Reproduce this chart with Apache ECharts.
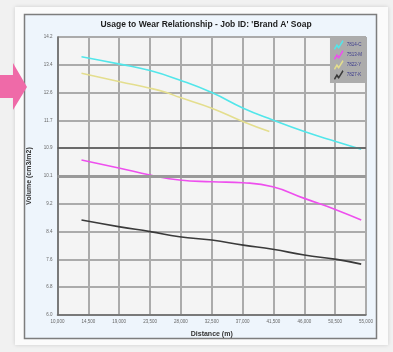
<!DOCTYPE html>
<html>
<head>
<meta charset="utf-8">
<script src="https://cdn.jsdelivr.net/npm/echarts@6/dist/echarts.min.js"></script>
<style>
  html, body { margin: 0; padding: 0; background: #f1f1f1; }
  #chart { width: 393px; height: 352px; }
</style>
</head>
<body>
<div id="chart"></div>
<script>
const chartTitle = "Usage to Wear Relationship - Job ID: 'Brand A' Soap";
const seriesNames = ["7814-C", "7513-M", "7822-Y", "7827-K"];

// distance (m) where each curve was sampled
const distanceFull = [13500, 19100, 23500, 27800, 32500, 37100, 41400, 46000, 50700, 54300];
const distanceYellow = [13500, 19100, 23500, 25900, 27800, 32500, 37100, 40900];

const cyanValues = [13.62, 13.40, 13.21, 12.93, 12.56, 12.10, 11.75, 11.41, 11.11, 10.89];
const magentaValues = [10.57, 10.33, 10.13, 9.98, 9.93, 9.90, 9.78, 9.44, 9.10, 8.80];
const yellowValues = [13.13, 12.88, 12.69, 12.56, 12.42, 12.10, 11.70, 11.41];
const blackValues = [8.80, 8.60, 8.46, 8.31, 8.21, 8.06, 7.94, 7.77, 7.64, 7.50];

const xTickLabels = ["10,000", "14,500", "19,000", "23,500", "28,000", "32,500", "37,000", "41,500", "46,000", "50,500", "55,000"];
const yTickLabels = ["6.0", "6.8", "7.6", "8.4", "9.2", "10.1", "10.9", "11.7", "12.6", "13.4", "14.2"];

const X_MIN = 10000, X_MAX = 55000, X_STEP = 4500;
const Y_MIN = 6.0, Y_MAX = 14.2, Y_STEP = 0.82;

const squiggle = "path://M0,9 L3,4 L5,6.5 L9,0 L10,1.5 L5,9.5 L3,7 L1,10.5 Z";

function pairs(xs, ys) {
  return xs.map((x, i) => [x, ys[i]]);
}

function lineSeries(name, xs, ys, color) {
  return {
    name,
    type: "line",
    smooth: true,
    symbol: "none",
    data: pairs(xs, ys),
    lineStyle: { color, width: 1.6 },
    itemStyle: { color },
  };
}

const chart = echarts.init(document.getElementById("chart"), null, { renderer: "canvas" });

const series = [
  lineSeries(seriesNames[0], distanceFull, cyanValues, "#52e6ea"),
  lineSeries(seriesNames[1], distanceFull, magentaValues, "#ee4fee"),
  lineSeries(seriesNames[2], distanceYellow, yellowValues, "#e4de8e"),
  lineSeries(seriesNames[3], distanceFull, blackValues, "#3a3a3a"),
];

// heavier reference lines across the plot
series[0].markLine = {
  silent: true,
  symbol: "none",
  label: { show: false },
  data: [
    { yAxis: 10.92, lineStyle: { color: "#555", width: 1.5, type: "solid" } },
    { yAxis: 10.1, lineStyle: { color: "#999", width: 3, type: "solid" } },
  ],
};

chart.setOption({
  backgroundColor: "#f1f1f1",
  animation: false,
  title: {
    text: chartTitle,
    left: 201,
    top: 15,
    textAlign: "center",
    textStyle: { fontFamily: "Liberation Sans", fontSize: 8.5, fontWeight: "bold", color: "#1e1e1e" },
  },
  graphic: [
    {
      type: "rect",
      z: -20,
      shape: { x: 15, y: 7, width: 373, height: 338 },
      style: { fill: "#fbfbfb", shadowBlur: 4, shadowColor: "rgba(0,0,0,0.15)" },
    },
    {
      type: "rect",
      z: -19,
      shape: { x: 24.5, y: 14.5, width: 352, height: 324 },
      style: { fill: "#eef5fc", stroke: "#7d7d7d", lineWidth: 1.5 },
    },
    {
      type: "polygon",
      z: 100,
      shape: { points: [[0, 75], [13, 75], [13, 63], [27, 87], [13, 110], [13, 98], [0, 98]] },
      style: { fill: "#ef6aa8" },
    },
  ],
  legend: {
    data: seriesNames.map((name) => ({ name, icon: squiggle })),
    orient: "vertical",
    right: 27,
    top: 37,
    padding: [3, 4, 3, 4],
    itemGap: 0,
    itemWidth: 10,
    itemHeight: 10,
    backgroundColor: "#acacac",
    lineStyle: { width: 0 },
    textStyle: { fontFamily: "Liberation Sans", fontSize: 4.5, color: "#3b3b8c", padding: [0, 0, 0, -2] },
  },
  grid: {
    left: 57.5,
    right: 27,
    top: 37,
    bottom: 37,
    show: true,
    backgroundColor: "#f4f4f4",
    borderWidth: 0,
  },
  xAxis: {
    type: "value",
    min: X_MIN,
    max: X_MAX,
    interval: X_STEP,
    name: "Distance (m)",
    nameLocation: "middle",
    nameGap: 16,
    nameTextStyle: { fontFamily: "Liberation Sans", fontSize: 7, fontWeight: "bold", color: "#333" },
    axisLine: { lineStyle: { color: "#6a6a6a", width: 1.5 } },
    axisTick: { show: false },
    axisLabel: {
      fontFamily: "Liberation Sans",
      fontSize: 4.5,
      color: "#666",
      margin: 4,
      formatter: (v) => xTickLabels[Math.round((v - X_MIN) / X_STEP)] || "",
    },
    splitLine: { show: true, lineStyle: { color: "#ababab", width: 2 } },
  },
  yAxis: {
    type: "value",
    min: Y_MIN,
    max: Y_MAX,
    interval: Y_STEP,
    name: "Volume (cm3/m2)",
    nameLocation: "middle",
    nameGap: 19,
    nameTextStyle: { fontFamily: "Liberation Sans", fontSize: 7, fontWeight: "bold", color: "#333" },
    axisLine: { show: true, lineStyle: { color: "#6a6a6a", width: 1.5 } },
    axisTick: { show: false },
    axisLabel: {
      fontFamily: "Liberation Sans",
      fontSize: 4.5,
      color: "#666",
      margin: 5,
      formatter: (v) => yTickLabels[Math.round((v - Y_MIN) / Y_STEP)] || "",
    },
    splitLine: { show: true, lineStyle: { color: "#ababab", width: 2 } },
  },
  series,
});
</script>
</body>
</html>
